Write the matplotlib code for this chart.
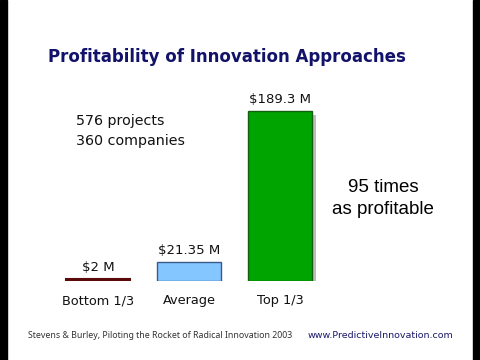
import matplotlib
matplotlib.use("Agg")
import matplotlib.pyplot as plt
import matplotlib.patheffects as pe
from matplotlib.patches import Rectangle

# data
categories = ["Bottom 1/3", "Average", "Top 1/3"]
profits = [2.0, 21.35, 189.3]
value_labels = ["$2 M", "$21.35 M", "$189.3 M"]
face_colors = ["#7a1a1a", "#84c6ff", "#00a400"]
edge_colors = ["#5a0a0a", "#3a5a8a", "#106010"]

title = "Profitability of Innovation Approaches"
note_lines = ["576 projects", "360 companies"]
callout_lines = ["95 times", "as profitable"]
source = "Stevens & Burley, Piloting the Rocket of Radical Innovation 2003"
site = "www.PredictiveInnovation.com"

W, H = 480, 360
fig = plt.figure(figsize=(4.8, 3.6), dpi=100)
fig.patch.set_facecolor("white")

def px(x, y):
    # pixel position (from top-left) -> figure fraction
    return x / W, 1 - y / H

# black letterbox strips on the sides
fig.patches.append(Rectangle((0, 0), 7 / W, 1, transform=fig.transFigure, color="black", zorder=0))
fig.patches.append(Rectangle((473 / W, 0), 7 / W, 1, transform=fig.transFigure, color="black", zorder=0))

# axes placed in pixel terms: baseline at y=281, 170 px for 189.3
base_y, top_y = 281, 81
ax = fig.add_axes([52.5 / W, (H - base_y) / H, 273 / W, (base_y - top_y) / H])
ax.set_xlim(-0.5, 2.5)
ax.set_ylim(0, 189.3 * (base_y - top_y) / 170)
ax.axis("off")

bars = ax.bar(range(len(profits)), profits, width=0.7, color=face_colors,
              edgecolor=edge_colors, linewidth=1.0)
bars[0].set_linewidth(1.5)
bars[2].set_path_effects([pe.SimplePatchShadow(offset=(3, -3), shadow_rgbFace="#888888", alpha=0.55),
                          pe.Normal()])

for i, (v, lab) in enumerate(zip(profits, value_labels)):
    ax.annotate(lab, (i, v), xytext=(0, 3.5), textcoords="offset points",
                ha="center", va="bottom", fontsize=9.5, color="#111111")
    ax.annotate(categories[i], (i, 0), xytext=(0, -9.5), textcoords="offset points",
                ha="center", va="top", fontsize=9.3, color="#111111")

fig.text(*px(227, 57), title, ha="center", va="center",
         fontsize=12, fontweight="bold", color="#12126a")
fig.text(*px(76, 121), note_lines[0], ha="left", va="center", fontsize=10.3, color="#111111")
fig.text(*px(76, 141), note_lines[1], ha="left", va="center", fontsize=10.3, color="#111111")
fig.text(*px(383, 192), callout_lines[0], ha="center", va="baseline", fontsize=13.5,
         family="Liberation Sans", color="black")
fig.text(*px(383, 214), callout_lines[1], ha="center", va="baseline", fontsize=13.5,
         family="Liberation Sans", color="black")
fig.text(*px(28, 336), source, ha="left", va="center", fontsize=6.35,
         family="Noto Sans", color="#333333")
fig.text(*px(308, 336), site, ha="left", va="center", fontsize=6.8, color="#1a1a6a")

fig.savefig("out.png", dpi=100)
